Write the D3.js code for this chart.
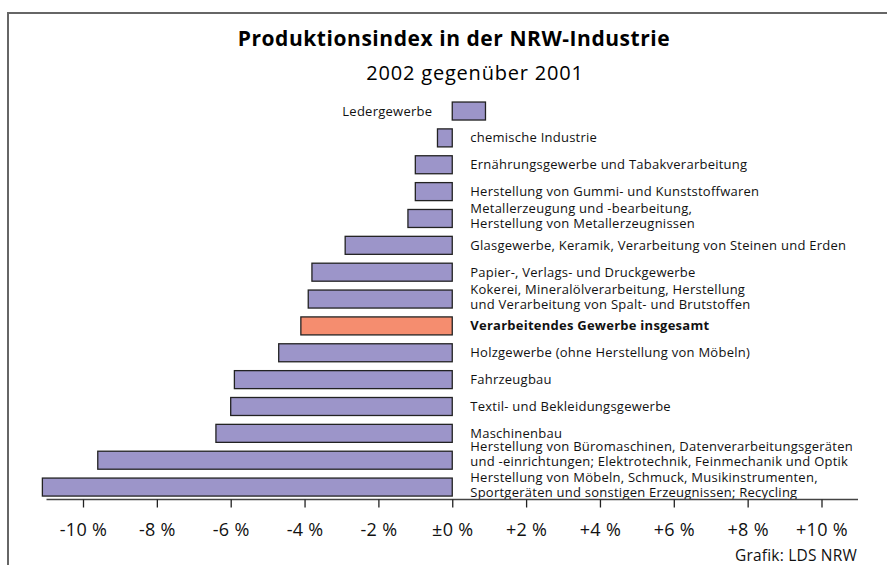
<!DOCTYPE html>
<html>
<head>
<meta charset="utf-8">
<script src="https://cdn.jsdelivr.net/npm/d3@7"></script>
<style>
  body { margin: 0; background: #fff; }
  svg { display: block; font-family: "Open Sans", "Noto Sans", sans-serif; }
</style>
</head>
<body>
<svg width="887" height="565"></svg>
<script>
// Branchen (von oben nach unten), Veränderung 2002 gegenüber 2001 in %
const categories = [
  ["Ledergewerbe"],
  ["chemische Industrie"],
  ["Ernährungsgewerbe und Tabakverarbeitung"],
  ["Herstellung von Gummi- und Kunststoffwaren"],
  ["Metallerzeugung und -bearbeitung,", "Herstellung von Metallerzeugnissen"],
  ["Glasgewerbe, Keramik, Verarbeitung von Steinen und Erden"],
  ["Papier-, Verlags- und Druckgewerbe"],
  ["Kokerei, Mineralölverarbeitung, Herstellung", "und Verarbeitung von Spalt- und Brutstoffen"],
  ["Verarbeitendes Gewerbe insgesamt"],
  ["Holzgewerbe (ohne Herstellung von Möbeln)"],
  ["Fahrzeugbau"],
  ["Textil- und Bekleidungsgewerbe"],
  ["Maschinenbau"],
  ["Herstellung von Büromaschinen, Datenverarbeitungsgeräten", "und -einrichtungen; Elektrotechnik, Feinmechanik und Optik"],
  ["Herstellung von Möbeln, Schmuck, Musikinstrumenten,", "Sportgeräten und sonstigen Erzeugnissen; Recycling"]
];
const values = [0.9, -0.4, -1.0, -1.0, -1.2, -2.9, -3.8, -3.9, -4.1, -4.7, -5.9, -6.0, -6.4, -9.6, -11.1];
const totalIndex = 8;
const tickValues = [-10, -8, -6, -4, -2, 0, 2, 4, 6, 8, 10];
const tickLabels = ["-10 %", "-8 %", "-6 %", "-4 %", "-2 %", "±0 %", "+2 %", "+4 %", "+6 %", "+8 %", "+10 %"];

const svg = d3.select("svg");

// Rahmen oben und links
svg.append("path")
  .attr("d", "M8,565V13H887")
  .attr("fill", "none")
  .attr("stroke", "#666")
  .attr("stroke-width", 2);

// Titel
svg.append("text")
  .attr("x", 454).attr("y", 46)
  .attr("text-anchor", "middle")
  .attr("font-size", 21).attr("font-weight", "bold")
  .attr("letter-spacing", 0.55)
  .text("Produktionsindex in der NRW-Industrie");
svg.append("text")
  .attr("x", 475).attr("y", 80)
  .attr("text-anchor", "middle")
  .attr("font-size", 20)
  .attr("letter-spacing", 0.8)
  .text("2002 gegenüber 2001");

const x = d3.scaleLinear().domain([-10, 10]).range([83, 821.5]);
const y = d3.scaleBand()
  .domain(d3.range(categories.length))
  .range([97.6, 500.5])
  .paddingInner(0.33)
  .paddingOuter(0.165);

// Balken
svg.append("g").selectAll("rect")
  .data(values)
  .join("rect")
    .attr("x", d => x(Math.min(0, d)))
    .attr("y", (d, i) => y(i))
    .attr("width", d => Math.abs(x(d) - x(0)))
    .attr("height", y.bandwidth())
    .attr("fill", (d, i) => i === totalIndex ? "#f58d6f" : "#9c95c9")
    .attr("stroke", "#222")
    .attr("stroke-width", 1.3);

// Beschriftungen (zweizeilige Texte rücken hoch, wenn darunter wieder zwei Zeilen folgen)
const labelY = (d, i) => {
  let yy = y(i) + y.bandwidth() / 2 + 4.5 - (d.length - 1) * 9.5;
  if (d.length > 1 && categories[i + 1] && categories[i + 1].length > 1) yy -= 4;
  return yy;
};

const labels = svg.append("g").selectAll("text")
  .data(categories)
  .join("text")
    .attr("font-size", 13)
    .attr("letter-spacing", 0.25)
    .attr("fill", "#111")
    .attr("font-weight", (d, i) => i === totalIndex ? "bold" : "normal")
    .attr("text-anchor", (d, i) => values[i] > 0 ? "end" : "start")
    .attr("x", (d, i) => values[i] > 0 ? x(0) - 20 : x(0) + 18)
    .attr("y", labelY);

labels.selectAll("tspan")
  .data(d => d)
  .join("tspan")
    .attr("x", function() { return this.parentNode.getAttribute("x"); })
    .attr("dy", (d, j) => j === 0 ? 0 : 15)
    .text(d => d);

// x-Achse
const axis = svg.append("g")
  .attr("transform", "translate(0,499.5)")
  .call(d3.axisBottom(x)
    .tickValues(tickValues)
    .tickSize(8)
    .tickPadding(16)
    .tickFormat((d, i) => tickLabels[i]));
axis.select(".domain")
  .attr("d", "M46.5,0H858")
  .attr("stroke", "#444")
  .attr("stroke-width", 1.5);
axis.selectAll(".tick line").attr("stroke", "#222").attr("stroke-width", 1.3);
axis.selectAll(".tick text")
  .attr("font-family", "'Open Sans', 'Noto Sans', sans-serif")
  .attr("font-size", 18)
  .attr("letter-spacing", 0.3)
  .attr("fill", "#111");

// Quelle
svg.append("text")
  .attr("x", 857).attr("y", 561)
  .attr("text-anchor", "end")
  .attr("font-size", 15.5)
  .attr("letter-spacing", 0.2)
  .attr("fill", "#111")
  .text("Grafik: LDS NRW");
</script>
</body>
</html>
